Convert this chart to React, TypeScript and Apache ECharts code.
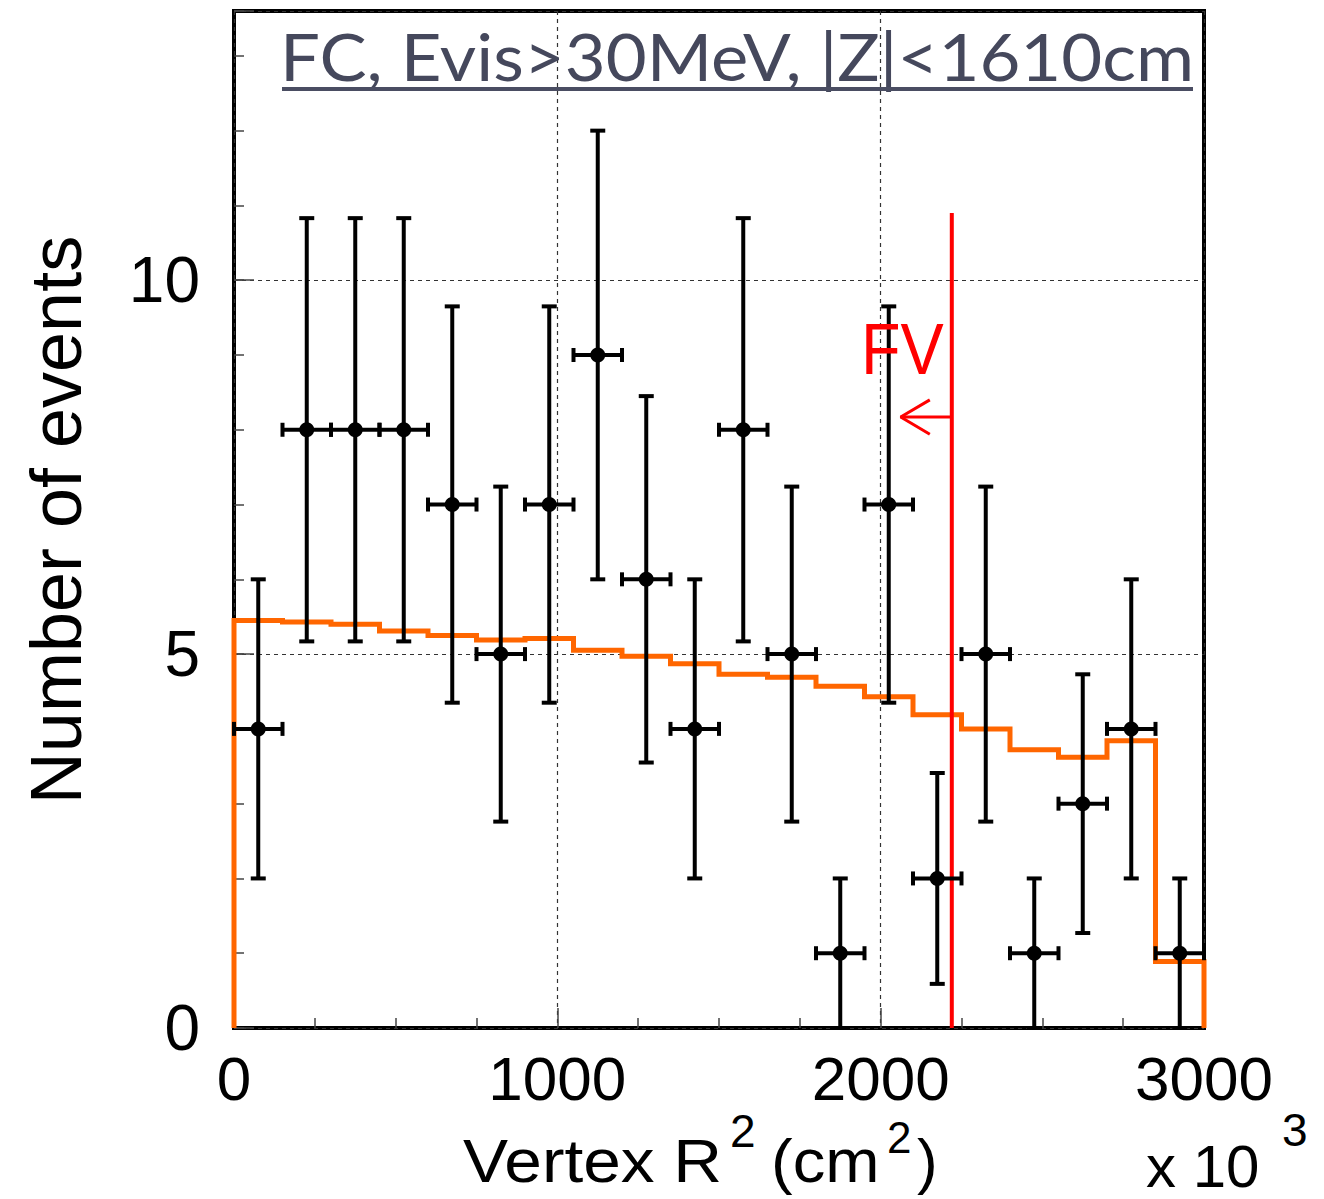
import { useEffect, useRef } from "react";
import * as echarts from "echarts";

// Histogram binning in Vertex R^2 (units of 10^3 cm^2)
const binWidth = 150;
const binCenters = [75, 225, 375, 525, 675, 825, 975, 1125, 1275, 1425, 1575, 1725, 1875, 2025, 2175, 2325, 2475, 2625, 2775, 2925];

// Observed events per bin and their statistical errors
const dataCounts = [4, 8, 8, 8, 7, 5, 7, 9, 6, 4, 8, 5, 1, 7, 2, 5, 1, 3, 4, 1];
const dataErrors = [2, 2.83, 2.83, 2.83, 2.65, 2.24, 2.65, 3, 2.45, 2, 2.83, 2.24, 1, 2.65, 1.41, 2.24, 1, 1.73, 2, 1];

// Expected (MC) events per bin
const mcExpected = [5.45, 5.43, 5.4, 5.31, 5.25, 5.19, 5.21, 5.05, 4.97, 4.87, 4.73, 4.69, 4.57, 4.43, 4.19, 4.0, 3.72, 3.62, 3.84, 0.89];

// Axis ranges
const xMin = 0;
const xMax = 3000;
const yMin = 0;
const yMax = 13.6;
const yMajorStep = 5;
const yMinorStep = 1;
const xMajorStep = 1000;

// Fiducial volume boundary marker
const fvCut = 2220;
const fvLineTop = 10.9;
const fvArrowY = 8.17;
const fvArrowTip = 2062;
const fvArrowHeadDx = 90;
const fvArrowHeadDy = 0.23;

const titleText = "FC, Evis>30MeV, |Z|<1610cm";

export default function App() {
  const ref = useRef<HTMLDivElement>(null);

  useEffect(() => {
    document.body.style.margin = "0";
    if (!ref.current) return;
    const chart = echarts.init(ref.current, undefined, { renderer: "svg" });

    // Step outline of the MC expectation
    const mcStep: number[][] = [[binCenters[0] - binWidth / 2, 0]];
    binCenters.forEach((c, i) => {
      mcStep.push([c - binWidth / 2, mcExpected[i]]);
      mcStep.push([c + binWidth / 2, mcExpected[i]]);
    });
    mcStep.push([binCenters[binCenters.length - 1] + binWidth / 2, 0]);

    const points = binCenters.map((c, i) => [c, dataCounts[i], dataErrors[i]]);

    const axisFont = "'Liberation Sans', Arial, sans-serif";
    const gridLine = { show: true, lineStyle: { color: "#333", width: 1.2, type: [4, 4] as number[] } };

    const option: any = {
      animation: false,
      backgroundColor: "#fff",
      grid: {
        left: 234,
        right: 120,
        top: 11,
        bottom: 171,
        show: true,
        borderColor: "#000",
        borderWidth: 4,
        backgroundColor: "transparent",
      },
      xAxis: [
        {
          type: "value",
          min: xMin,
          max: xMax,
          interval: xMajorStep,
          axisLine: { show: false },
          axisTick: { show: true, inside: true, length: 20, lineStyle: { color: "#444", width: 1.5 } },
          minorTick: { show: true, splitNumber: 4, length: 10, lineStyle: { color: "#444", width: 1.5 } },
          axisLabel: {
            fontSize: 62,
            lineHeight: 44,
            color: "#000",
            fontFamily: axisFont,
            margin: 28,
            formatter: (v: number) => String(v),
          },
          splitLine: gridLine,
        },
      ],
      yAxis: [
        {
          type: "value",
          min: yMin,
          max: yMax,
          interval: yMajorStep,
          axisLine: { show: false },
          axisTick: { show: true, inside: true, length: 20, lineStyle: { color: "#444", width: 1.5 } },
          axisLabel: {
            fontSize: 64,
            color: "#000",
            fontFamily: axisFont,
            margin: 34,
            formatter: (v: number) => (v % yMajorStep === 0 ? String(v) : ""),
          },
          splitLine: gridLine,
        },
        {
          type: "value",
          min: yMin,
          max: yMax,
          interval: yMinorStep,
          position: "left",
          axisLine: { show: false },
          axisTick: { show: true, inside: true, length: 10, lineStyle: { color: "#444", width: 1.5 } },
          axisLabel: { show: false },
          splitLine: { show: false },
        },
      ],
      series: [
        {
          type: "line",
          data: mcStep,
          showSymbol: false,
          clip: false,
          lineStyle: { color: "#FF6600", width: 5, join: "miter" },
          z: 2,
        },
        {
          type: "line",
          data: [
            [fvCut, 0],
            [fvCut, fvLineTop],
          ],
          showSymbol: false,
          lineStyle: { color: "#FF0000", width: 4 },
          z: 3,
        },
        {
          type: "line",
          data: [
            [fvCut, fvArrowY],
            [fvArrowTip, fvArrowY],
          ],
          showSymbol: false,
          lineStyle: { color: "#FF0000", width: 3 },
          z: 3,
        },
        {
          type: "line",
          data: [
            [fvArrowTip + fvArrowHeadDx, fvArrowY + fvArrowHeadDy],
            [fvArrowTip, fvArrowY],
            [fvArrowTip + fvArrowHeadDx, fvArrowY - fvArrowHeadDy],
          ],
          showSymbol: false,
          lineStyle: { color: "#FF0000", width: 3 },
          z: 3,
        },
        {
          type: "custom",
          data: points,
          clip: false,
          z: 5,
          renderItem: (_params: any, api: any) => {
            const x = api.value(0);
            const y = api.value(1);
            const e = api.value(2);
            const c = api.coord([x, y]);
            const lo = api.coord([x, y - e]);
            const hi = api.coord([x, y + e]);
            const l = api.coord([x - binWidth / 2, y]);
            const r = api.coord([x + binWidth / 2, y]);
            const st = { stroke: "#000", lineWidth: 4 };
            const capH = 7.5;
            const capV = 7;
            return {
              type: "group",
              children: [
                { type: "line", shape: { x1: c[0], y1: lo[1], x2: c[0], y2: hi[1] }, style: st },
                { type: "line", shape: { x1: l[0], y1: c[1], x2: r[0], y2: c[1] }, style: st },
                { type: "line", shape: { x1: c[0] - capH, y1: lo[1], x2: c[0] + capH, y2: lo[1] }, style: st },
                { type: "line", shape: { x1: c[0] - capH, y1: hi[1], x2: c[0] + capH, y2: hi[1] }, style: st },
                { type: "line", shape: { x1: l[0], y1: c[1] - capV, x2: l[0], y2: c[1] + capV }, style: st },
                { type: "line", shape: { x1: r[0], y1: c[1] - capV, x2: r[0], y2: c[1] + capV }, style: st },
                { type: "circle", shape: { cx: c[0], cy: c[1], r: 7.5 }, style: { fill: "#000" } },
              ],
            };
          },
        },
      ],
      graphic: [
        {
          type: "text",
          x: 280,
          y: 56,
          scaleX: 1.07,
          z: 10,
          style: {
            text: titleText,
            fontFamily: "Lato, 'Open Sans', sans-serif",
            fontSize: 66,
            fill: "#45485C",
            textAlign: "left",
            textVerticalAlign: "middle",
          },
        },
        {
          type: "rect",
          z: 10,
          shape: { x: 282, y: 87, width: 911, height: 4 },
          style: { fill: "#4A4D62" },
        },
        {
          type: "text",
          x: 861,
          y: 349,
          scaleX: 0.9,
          z: 10,
          style: {
            text: "FV",
            fontFamily: axisFont,
            fontSize: 72,
            fill: "#FF0000",
            textAlign: "left",
            textVerticalAlign: "middle",
          },
        },
        {
          type: "text",
          x: 56,
          y: 520,
          rotation: Math.PI / 2,
          style: {
            text: "Number of events",
            fontFamily: axisFont,
            fontSize: 72,
            fill: "#000",
            textAlign: "center",
            textVerticalAlign: "middle",
          },
        },
        {
          type: "text",
          x: 463,
          y: 1160,
          scaleX: 1.09,
          style: { text: "Vertex R", fontFamily: axisFont, fontSize: 62, lineHeight: 44, fill: "#000", textAlign: "left", textVerticalAlign: "middle" },
        },
        {
          type: "text",
          x: 730,
          y: 1131,
          style: { text: "2", fontFamily: axisFont, fontSize: 46, lineHeight: 34, fill: "#000", textAlign: "left", textVerticalAlign: "middle" },
        },
        {
          type: "text",
          x: 771,
          y: 1160,
          scaleX: 1.05,
          style: { text: "(cm", fontFamily: axisFont, fontSize: 62, lineHeight: 44, fill: "#000", textAlign: "left", textVerticalAlign: "middle" },
        },
        {
          type: "text",
          x: 887,
          y: 1137,
          style: { text: "2", fontFamily: axisFont, fontSize: 44, lineHeight: 32, fill: "#000", textAlign: "left", textVerticalAlign: "middle" },
        },
        {
          type: "text",
          x: 917,
          y: 1160,
          style: { text: ")", fontFamily: axisFont, fontSize: 62, lineHeight: 44, fill: "#000", textAlign: "left", textVerticalAlign: "middle" },
        },
        {
          type: "text",
          x: 1146,
          y: 1166,
          style: { text: "x 10", fontFamily: axisFont, fontSize: 60, lineHeight: 40, fill: "#000", textAlign: "left", textVerticalAlign: "middle" },
        },
        {
          type: "text",
          x: 1282,
          y: 1130,
          style: { text: "3", fontFamily: axisFont, fontSize: 46, lineHeight: 34, fill: "#000", textAlign: "left", textVerticalAlign: "middle" },
        },
      ],
    };

    chart.setOption(option);
    return () => chart.dispose();
  }, []);

  return <div ref={ref} style={{ width: 1324, height: 1199 }} />;
}
